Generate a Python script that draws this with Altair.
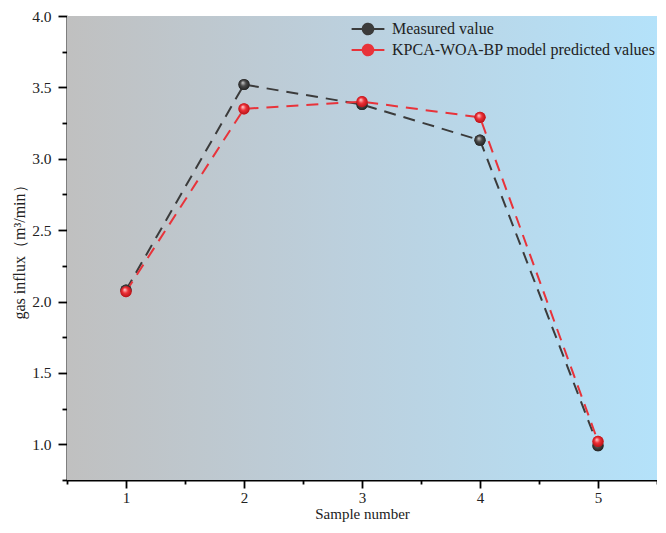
import altair as alt
import pandas as pd

samples = [1, 2, 3, 4, 5]
measured = [2.08, 3.52, 3.38, 3.13, 0.99]
predicted = [2.07, 3.35, 3.40, 3.29, 1.02]
series_names = ["Measured value", "KPCA-WOA-BP model predicted values"]
series_colors = ["#3b3b3b", "#e8333a"]

y_major = [1.0, 1.5, 2.0, 2.5, 3.0, 3.5, 4.0]
y_minor = [0.75, 1.25, 1.75, 2.25, 2.75, 3.25, 3.75]
x_major = [1, 2, 3, 4, 5]
x_minor = [0.5, 1.5, 2.5, 3.5, 4.5, 5.5]

rows = []
for s, v in zip(samples, measured):
    rows.append({"sample": s, "series": series_names[0], "value": v})
for s, v in zip(samples, predicted):
    rows.append({"sample": s, "series": series_names[1], "value": v})
df = pd.DataFrame(rows)

FONT = "Liberation Serif"
W, H = 590, 464

xscale = alt.Scale(domain=[0.5, 5.5], nice=False, zero=False)
yscale = alt.Scale(domain=[0.75, 4.0], nice=False, zero=False)

x_main_axis = alt.Axis(values=x_major, format="d", title="Sample number", orient="bottom",
                       grid=False, tickSize=8, tickWidth=1.8, tickColor="black",
                       domainColor="black", domainWidth=2, labelPadding=2,
                       labelFont=FONT, labelFontSize=15, labelColor="#222",
                       titleFont=FONT, titleFontSize=15, titleFontWeight="normal",
                       titleColor="#222", titlePadding=1)
y_main_axis = alt.Axis(values=y_major, format=".1f", title="gas influx（m³/min）", orient="left",
                       grid=False, tickSize=9, tickWidth=1.8, tickColor="black",
                       domainColor="black", domainWidth=2, labelPadding=7,
                       labelFont=FONT, labelFontSize=15.5, labelColor="#222",
                       titleFont=FONT, titleFontSize=16, titleFontWeight="normal",
                       titleColor="#222", titlePadding=4)
x_minor_axis = alt.Axis(values=x_minor, labels=False, title=None, orient="bottom", grid=False,
                        domain=False, tickSize=4, tickWidth=1.8, tickColor="black")
y_minor_axis = alt.Axis(values=y_minor, labels=False, title=None, orient="left", grid=False,
                        domain=False, tickSize=5, tickWidth=1.8, tickColor="black")

legend = alt.Legend(
    orient="none", legendX=292, legendY=4, title=None,
    symbolType="M-2.05,0L2.05,0M0.66,0A0.66,0.66,0,1,1,-0.66,0A0.66,0.66,0,1,1,0.66,0Z",
    symbolSize=256, symbolStrokeWidth=2, labelOffset=15, rowPadding=1, padding=0,
    labelFont=FONT, labelFontSize=16, labelColor="#222", symbolDash=[1, 0],
    labelLimit=0,
)

color_scale = alt.Scale(domain=series_names, range=series_colors)

bg = alt.Chart(df).mark_rect(
    fill=alt.LinearGradient(
        gradient="linear",
        stops=[alt.GradientStop(color="#c0c0c0", offset=0),
               alt.GradientStop(color="#bccfdc", offset=0.45),
               alt.GradientStop(color="#b4e2fa", offset=1)],
        x1=0, x2=1, y1=0, y2=0),
    stroke=None,
).encode(x=alt.value(0), x2=alt.value("width"), y=alt.value(0), y2=alt.value("height"))

minor = alt.Chart(df).mark_point(opacity=0).encode(
    x=alt.X("sample:Q", scale=xscale, axis=x_minor_axis),
    y=alt.Y("value:Q", scale=yscale, axis=y_minor_axis),
)

lines = alt.Chart(df).mark_line(strokeDash=[12, 8], strokeWidth=2).encode(
    x=alt.X("sample:Q", scale=xscale, axis=x_main_axis),
    y=alt.Y("value:Q", scale=yscale, axis=y_main_axis),
    stroke=alt.Stroke("series:N", scale=color_scale, legend=legend, sort=series_names),
)

points = alt.Chart(df).mark_point(filled=True, size=125, opacity=1).encode(
    x=alt.X("sample:Q", scale=xscale, axis=None),
    y=alt.Y("value:Q", scale=yscale, axis=None),
    fill=alt.Fill("series:N", scale=color_scale, legend=legend, sort=series_names),
)

def ball(name, light, mid, dark):
    return alt.Chart(df).transform_filter(alt.datum.series == name).mark_point(
        filled=True, size=125, opacity=1,
        fill=alt.RadialGradient(
            gradient="radial",
            stops=[alt.GradientStop(color=light, offset=0),
                   alt.GradientStop(color=mid, offset=0.45),
                   alt.GradientStop(color=dark, offset=1)],
            x1=0.38, y1=0.32, r1=0, x2=0.5, y2=0.5, r2=0.55),
    ).encode(
        x=alt.X("sample:Q", scale=xscale, axis=None),
        y=alt.Y("value:Q", scale=yscale, axis=None),
    )

balls_m = ball(series_names[0], "#d0d0d0", "#4a4a4a", "#1e1e1e")
balls_p = ball(series_names[1], "#ffd8d8", "#ee3037", "#b01015")

chart = alt.layer(bg, minor, lines, points, balls_m, balls_p).resolve_axis(
    x="independent", y="independent"
).properties(
    width=W, height=H,
    padding={"left": 59, "top": 8, "right": 0, "bottom": 45},
    autosize=alt.AutoSizeParams(type="none"),
).configure_view(stroke=None)

chart.save("out.html", embed_options={"renderer": "svg", "actions": False})
